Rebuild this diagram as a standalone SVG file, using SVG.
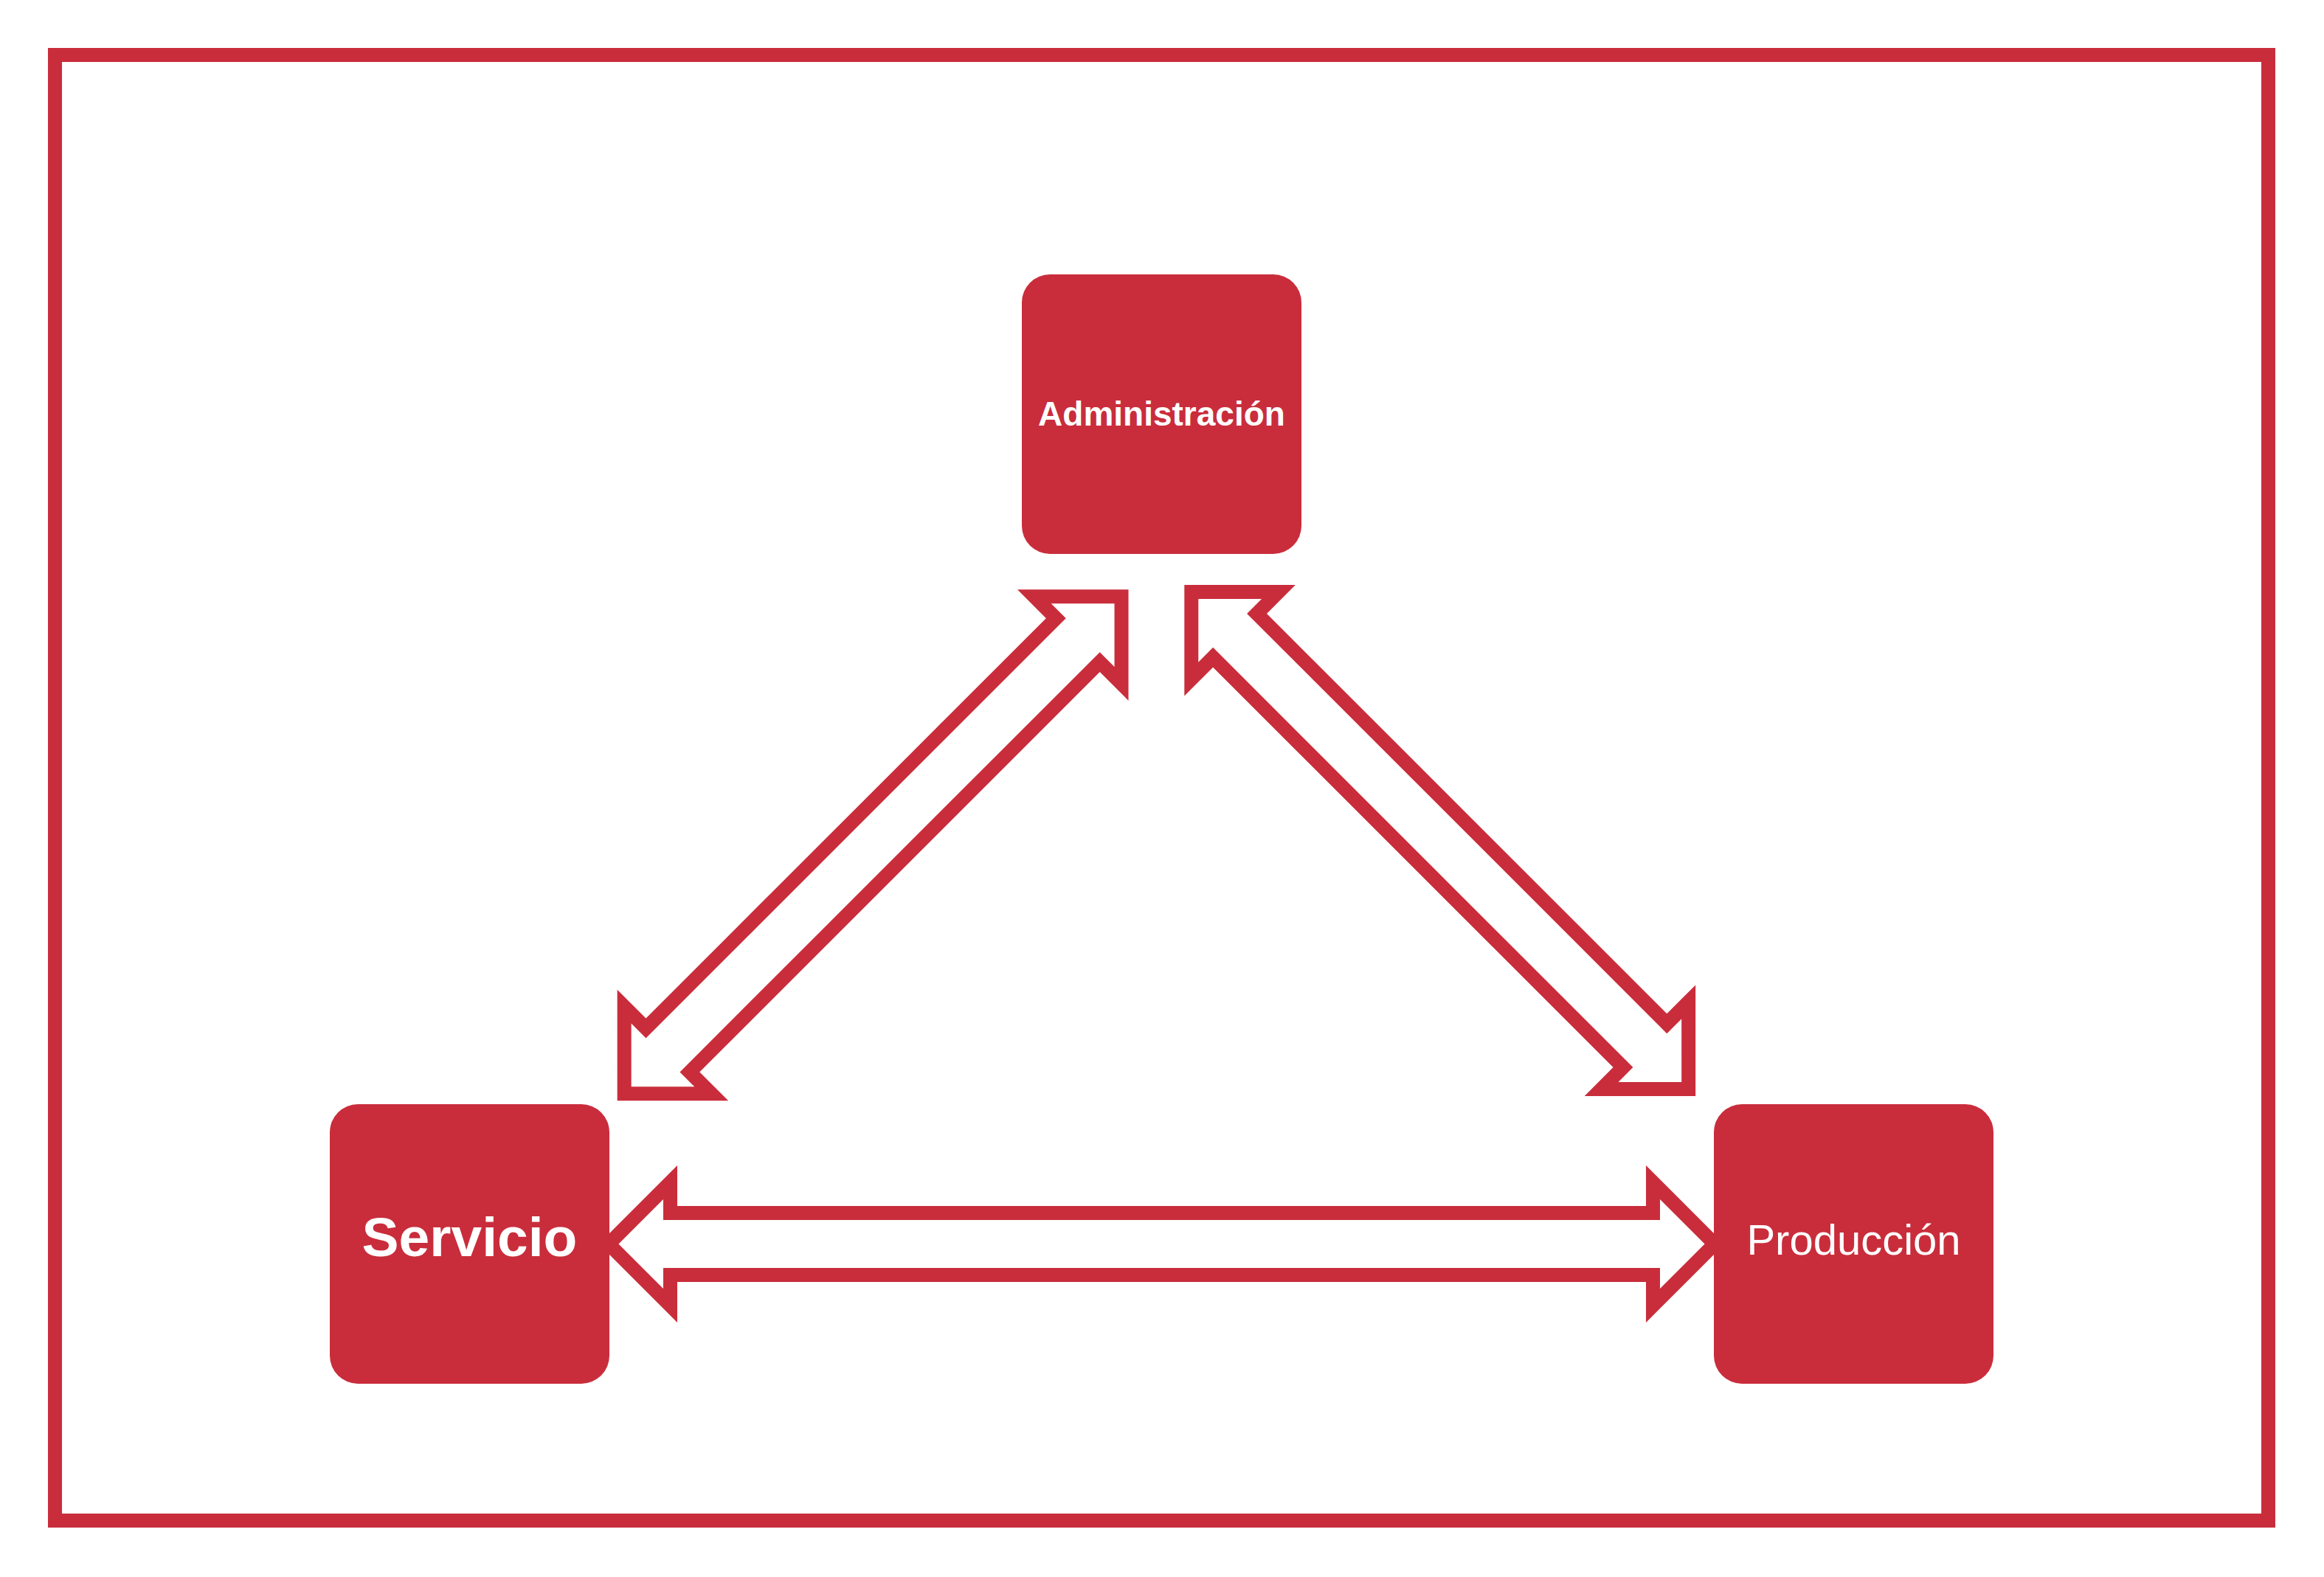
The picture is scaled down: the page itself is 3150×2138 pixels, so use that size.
<svg xmlns="http://www.w3.org/2000/svg" width="3150" height="2138" viewBox="0 0 3150 2138">
  <defs>
    <style>
      .frame { fill: none; stroke: #C92D3B; stroke-width: 19; }
      .arrow { fill: #FFFFFF; stroke: #C92D3B; stroke-width: 19; stroke-linejoin: miter; stroke-miterlimit: 4; }
      .box { fill: #C92D3B; }
      .lbl { fill: #FFFFFF; font-family: "Liberation Sans", Arial, sans-serif; text-anchor: middle; }
      .b { font-weight: bold; }
    </style>
  </defs>
  <rect width="3150" height="2138" fill="#FFFFFF"/>
  <rect class="frame" x="74.5" y="74.5" width="3000" height="1987"/>

  <g id="connectors">
    <polygon id="arrow-servicio-produccion" class="arrow" transform="translate(1574.5 1686.5)"
      points="-749.5,0 -666,-83.5 -666,-42 666,-42 666,-83.5 749.5,0 666,83.5 666,42 -666,42 -666,83.5"/>
    <polygon id="arrow-servicio-administracion" class="arrow" transform="translate(1183.1 1145.8) rotate(-45)"
      points="-476.5,0 -393,-83.5 -393,-42 393,-42 393,-83.5 476.5,0 393,83.5 393,42 -393,42 -393,83.5"/>
    <polygon id="arrow-administracion-produccion" class="arrow" transform="translate(1951.75 1139.5) rotate(45)"
      points="-476.5,0 -393,-83.5 -393,-42 393,-42 393,-83.5 476.5,0 393,83.5 393,42 -393,42 -393,83.5"/>
  </g>

  <g id="node-administracion">
    <rect class="box" x="1385" y="372" width="379" height="379" rx="38" ry="38"/>
    <text class="lbl b" x="1574.5" y="577" font-size="46">Administración</text>
  </g>

  <g id="node-servicio">
    <rect class="box" x="447" y="1497" width="379" height="379" rx="38" ry="38"/>
    <text class="lbl b" x="636.5" y="1703" font-size="75">Servicio</text>
  </g>

  <g id="node-produccion">
    <rect class="box" x="2323" y="1497" width="379" height="379" rx="38" ry="38"/>
    <text class="lbl" x="2512.5" y="1701" font-size="58">Producción</text>
  </g>
</svg>
